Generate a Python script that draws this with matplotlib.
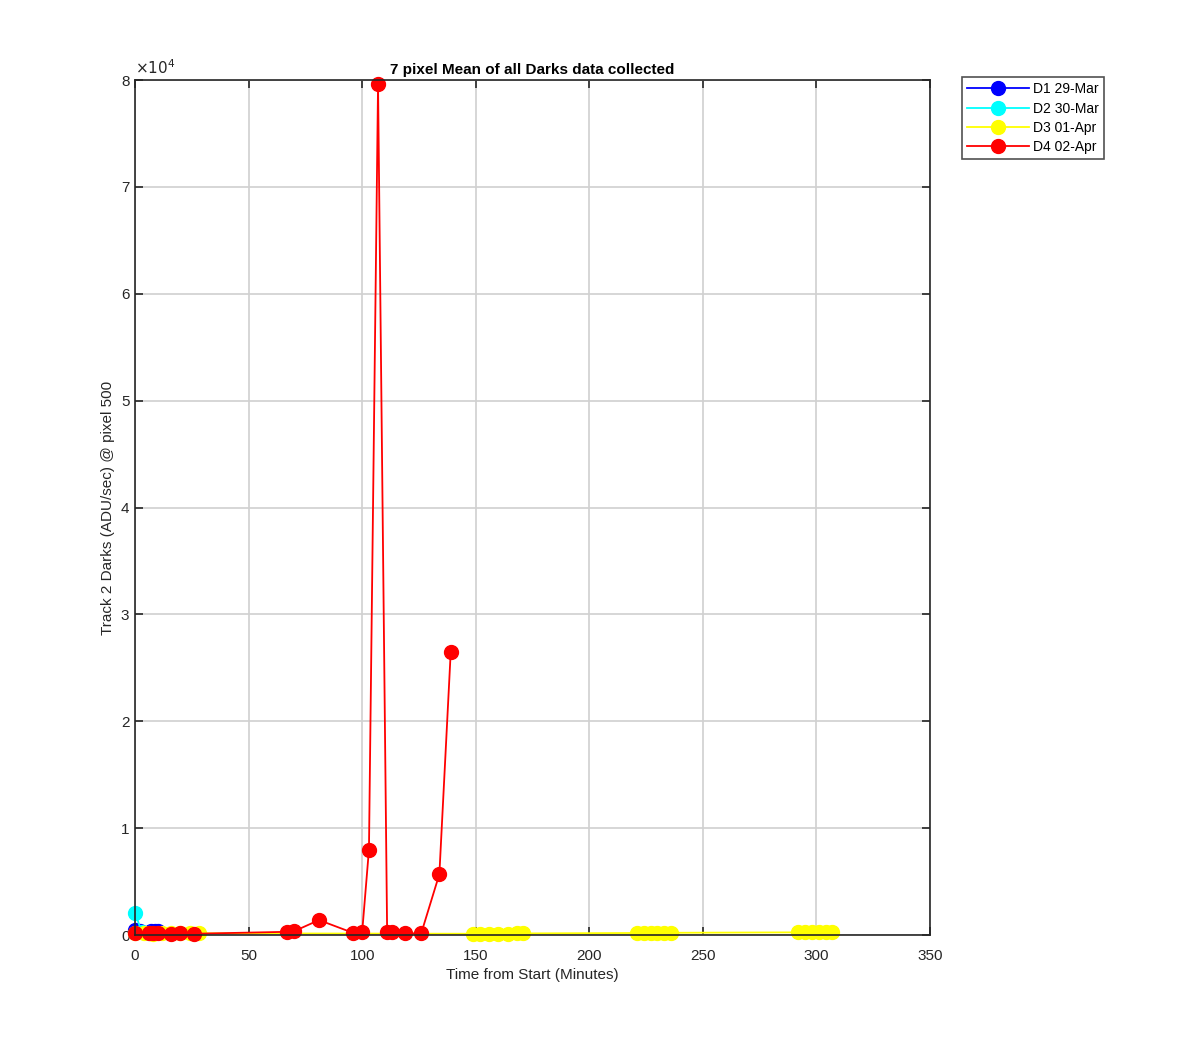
import matplotlib.pyplot as plt
from matplotlib.ticker import FuncFormatter

plt.rcParams['font.family'] = ['Liberation Sans', 'DejaVu Sans']

# Darks data (minutes from start, ADU/sec)
d1_t = [0, 2, 7, 9, 10]
d1_v = [450, 400, 380, 420, 400]

d2_t = [0, 3, 6]
d2_v = [2100, 250, 200]

d3_t = [0, 4, 8, 12, 16, 20, 24, 28,
        149, 152, 156, 160, 164, 168, 171,
        221, 224, 227, 230, 233, 236,
        292, 295, 298, 301, 304, 307]
d3_v = [150, 150, 140, 150, 160, 150, 150, 160,
        120, 130, 130, 140, 140, 150, 150,
        190, 200, 200, 200, 210, 210,
        250, 260, 260, 260, 270, 270]

d4_t = [0, 6, 8, 10, 16, 20, 26, 67, 70, 81, 96, 100, 103, 107,
        111, 113, 119, 126, 134, 139]
d4_v = [200, 150, 180, 150, 120, 150, 120, 300, 350, 1400, 200, 250, 8000,
        79600, 300, 300, 150, 150, 5700, 26500]

labels = ['D1 29-Mar', 'D2 30-Mar', 'D3 01-Apr', 'D4 02-Apr']
colors = ['#0000ff', '#00ffff', '#ffff00', '#ff0000']

fig = plt.figure(figsize=(12, 10.5), dpi=100)
ax = fig.add_axes([0.1125, 0.1095, 0.6625, 0.8143])

for t, v, lab, c in zip([d1_t, d2_t, d3_t, d4_t], [d1_v, d2_v, d3_v, d4_v], labels, colors):
    ax.plot(t, v, '-o', color=c, markerfacecolor=c, markeredgecolor=c,
            markersize=10, linewidth=1.3, label=lab, clip_on=False)

ax.set_xlim(0, 350)
ax.set_ylim(0, 80000)
ax.set_xticks(range(0, 351, 50))
ax.set_yticks(range(0, 80001, 10000))
ax.yaxis.set_major_formatter(FuncFormatter(lambda v, p: f'{v/1e4:g}'))
ax.grid(True, color='#d0d0d0', linewidth=1.2)
ax.set_axisbelow(True)
ax.tick_params(direction='in', top=True, right=True, length=6, width=1.2,
               labelsize=11, colors='#262626', pad=4)
ax.tick_params(axis='x', pad=10)
for s in ax.spines.values():
    s.set_color('#262626')
    s.set_linewidth(1.2)

ax.text(0.0, 1.003, r'$\times10^{4}$', transform=ax.transAxes, fontsize=11,
        color='#262626', ha='left', va='bottom')
ax.set_title('7 pixel Mean of all Darks data collected', fontsize=11,
             fontweight='bold', pad=4)
ax.set_xlabel('Time from Start (Minutes)', fontsize=11, color='#262626', labelpad=4)
ax.set_ylabel('Track 2 Darks (ADU/sec) @ pixel 500', fontsize=11, color='#262626', labelpad=4)

leg = ax.legend(loc='upper left', bbox_to_anchor=(1.04, 1.003), fontsize=10,
                frameon=True, fancybox=False, borderpad=0.35, labelspacing=0.38,
                handlelength=4.5, handletextpad=0.3, borderaxespad=0)
leg.get_frame().set_edgecolor('#262626')
leg.get_frame().set_linewidth(1.2)

fig.savefig('out.png', dpi=100)
